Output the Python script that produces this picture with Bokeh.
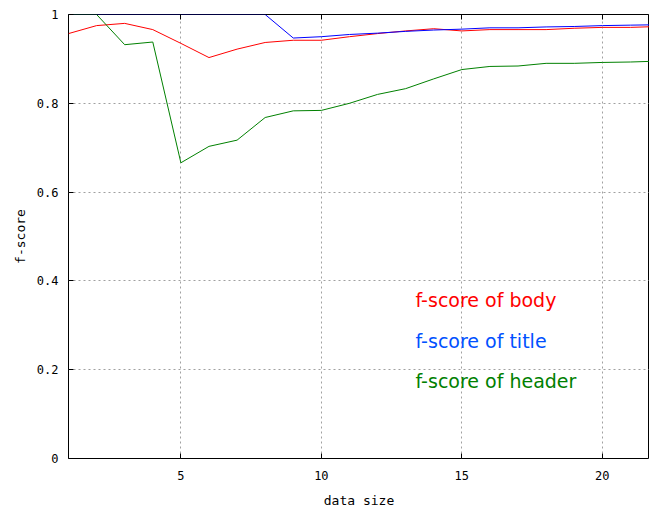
from bokeh.plotting import figure
from bokeh.models import Range1d, FixedTicker, Label, LinearAxis, Span
from bokeh.embed import file_html
from bokeh.resources import INLINE

data_size = list(range(1, 23))
body = [0.957, 0.975, 0.980, 0.966, 0.935, 0.903, 0.922, 0.937, 0.942, 0.942,
        0.950, 0.957, 0.963, 0.968, 0.963, 0.966, 0.966, 0.966, 0.969, 0.971, 0.971, 0.973]
title = [1.0, 1.0, 1.0, 1.0, 1.0, 1.0, 1.0, 1.0, 0.947, 0.950,
         0.955, 0.958, 0.962, 0.965, 0.967, 0.970, 0.970, 0.972, 0.973, 0.975, 0.976, 0.977]
header = [1.0, 1.0, 0.932, 0.938, 0.666, 0.703, 0.717, 0.768, 0.783, 0.784,
          0.800, 0.820, 0.833, 0.855, 0.876, 0.883, 0.884, 0.890, 0.890, 0.892, 0.893, 0.895]
x_ticks = [5, 10, 15, 20]
y_ticks = [0, 0.2, 0.4, 0.6, 0.8, 1]
legend_labels = ["f-score of body", "f-score of title", "f-score of header"]

p = figure(width=649, height=510, output_backend="svg", toolbar_location=None,
           x_range=Range1d(1, 21.68), y_range=Range1d(0, 1),
           min_border_left=68, min_border_right=0, min_border_top=14, min_border_bottom=51)

p.line(data_size, body, line_color="#ff0000", line_width=1)
p.line(data_size, title, line_color="#0000ff", line_width=1)
p.line(data_size, header, line_color="#008000", line_width=1)

# plot border drawn over the curves, as in the original
p.add_layout(Span(location=y_ticks[-1], dimension="width", line_color="#000000",
                  line_width=1, level="overlay"))

bottom_axis = p.below[0]
left_axis = p.left[0]

top_axis = LinearAxis(ticker=FixedTicker(ticks=x_ticks),
                      major_label_overrides={t: "" for t in x_ticks},
                      major_label_text_font_size="1px",
                      major_label_standoff=0, axis_line_color=None, major_tick_in=5,
                      major_tick_out=0, minor_tick_line_color=None,
                      major_tick_line_color="#000000")
p.add_layout(top_axis, "above")

for ax in (bottom_axis, left_axis):
    ax.axis_line_color = None
    ax.major_tick_in = 5
    ax.major_tick_out = 0
    ax.minor_tick_line_color = None
    ax.major_tick_line_color = "#000000"
    ax.major_label_text_font = "DejaVu Sans Mono"
    ax.major_label_text_font_size = "12px"
    ax.major_label_text_color = "#000000"
    ax.axis_label_text_font = "DejaVu Sans Mono"
    ax.axis_label_text_font_size = "13px"
    ax.axis_label_text_font_style = "normal"
    ax.axis_label_text_color = "#000000"

bottom_axis.ticker = FixedTicker(ticks=x_ticks)
left_axis.ticker = FixedTicker(ticks=y_ticks)
left_axis.major_label_overrides = {0: "0", 1: "1"}
bottom_axis.axis_label = "data size"
left_axis.axis_label = "f-score"
bottom_axis.major_label_standoff = 12
left_axis.major_label_standoff = 10
bottom_axis.axis_label_standoff = 10
left_axis.axis_label_standoff = 6

p.xgrid.ticker = FixedTicker(ticks=x_ticks)
p.ygrid.ticker = FixedTicker(ticks=[0.2, 0.4, 0.6, 0.8])
for g in (p.xgrid[0], p.ygrid[0]):
    g.grid_line_color = "#a0a0a0"
    g.grid_line_dash = "2 3"
    g.grid_line_width = 1

p.outline_line_color = "#000000"
p.outline_line_width = 1
p.background_fill_color = "white"
p.border_fill_color = "white"

colors = ["#ff0000", "#0050ff", "#008000"]
ys = [0.357, 0.265, 0.175]
for lab, c, yv in zip(legend_labels, colors, ys):
    p.add_layout(Label(x=13.35, y=yv, text=lab, text_color=c, text_font="DejaVu Sans",
                       text_font_size="19px", text_baseline="middle", text_align="left"))

open("out.html", "w").write(file_html(p, INLINE))
